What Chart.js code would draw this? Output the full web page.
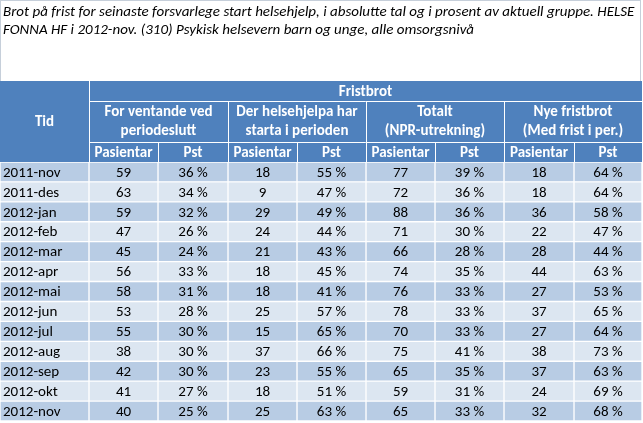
<!DOCTYPE html>
<html>
<head>
<meta charset="utf-8">
<script src="https://cdn.jsdelivr.net/npm/chart.js@4/dist/chart.umd.min.js"></script>
<style>
  body { margin: 0; background: #fff; }
  canvas { display: block; }
</style>
</head>
<body>
<canvas id="c" width="643" height="423"></canvas>
<script>
const titleLines = [
  "Brot på frist for seinaste forsvarlege start helsehjelp, i absolutte tal og i prosent av aktuell gruppe. HELSE",
  "FONNA HF i 2012-nov. (310) Psykisk helsevern barn og unge, alle omsorgsnivå"
];
const topHeader = "Fristbrot";
const groupHeaders = [
  ["For ventande ved", "periodeslutt"],
  ["Der helsehjelpa har", "starta i perioden"],
  ["Totalt", "(NPR-utrekning)"],
  ["Nye fristbrot", "(Med frist i per.)"]
];
const subHeaders = ["Pasientar", "Pst"];

const tid = ["2011-nov", "2011-des", "2012-jan", "2012-feb", "2012-mar", "2012-apr", "2012-mai",
             "2012-jun", "2012-jul", "2012-aug", "2012-sep", "2012-okt", "2012-nov"];
const ventPas  = [59, 63, 59, 47, 45, 56, 58, 53, 55, 38, 42, 41, 40];
const ventPst  = [36, 34, 32, 26, 24, 33, 31, 28, 30, 30, 30, 27, 25];
const startPas = [18, 9, 29, 24, 21, 18, 18, 25, 15, 37, 23, 18, 25];
const startPst = [55, 47, 49, 44, 43, 45, 41, 57, 65, 66, 55, 51, 63];
const totPas   = [77, 72, 88, 71, 66, 74, 76, 78, 70, 75, 65, 59, 65];
const totPst   = [39, 36, 36, 30, 28, 35, 33, 33, 33, 41, 35, 31, 33];
const nyePas   = [18, 18, 36, 22, 28, 44, 27, 37, 27, 38, 37, 24, 32];
const nyePst   = [64, 64, 58, 47, 44, 63, 53, 65, 64, 73, 63, 69, 68];

const valueCols = [ventPas, ventPst, startPas, startPst, totPas, totPst, nyePas, nyePst];
const isPct = [false, true, false, true, false, true, false, true];

// column widths (layout units on the x scale)
const colWidths = [89, 69, 70, 69, 69, 69, 69, 70, 68];
const edges = [0];
colWidths.forEach(w => edges.push(edges[edges.length - 1] + w));

const FONT = "Carlito, Calibri, Lato, 'Open Sans', sans-serif";
const HEAD_BLUE = "#4F81BD";
const ROW_DARK = "#B8CCE4";
const ROW_LIGHT = "#DCE6F1";

function drawText(ctx, text, x, y, align) {
  ctx.textAlign = align;
  ctx.fillText(text, x, y);
}

const rowColors = tid.map((_, i) => i % 2 === 0 ? ROW_DARK : ROW_LIGHT);

const datasets = colWidths.map((_, c) => ({
  data: tid.map(() => [edges[c], edges[c + 1]]),
  backgroundColor: rowColors,
  borderColor: "#FFFFFF",
  borderWidth: 1,
  borderSkipped: false,
  barPercentage: 1,
  categoryPercentage: 1,
  grouped: false
}));

const tablePlugin = {
  id: "table",
  beforeDraw(chart) {
    const ctx = chart.ctx;
    const x = chart.scales.x;
    const px = v => x.getPixelForValue(v);
    const left = px(edges[0]), right = px(edges[edges.length - 1]);

    ctx.save();
    // title box
    ctx.fillStyle = "#FFFFFF";
    ctx.fillRect(0, 0, chart.width, chart.height);
    ctx.strokeStyle = "#C6CFDA";
    ctx.lineWidth = 1;
    ctx.strokeRect(0.5, 0.5, right - 2, 81);
    ctx.fillStyle = "#000000";
    ctx.font = "italic 15px " + FONT;
    ctx.textBaseline = "alphabetic";
    drawText(ctx, titleLines[0], 3, 16, "left");
    drawText(ctx, titleLines[1], 3, 34, "left");

    // header block
    const hTop = 81, h1 = 101, h2 = 142, hBot = 162;
    ctx.fillStyle = HEAD_BLUE;
    ctx.fillRect(left, hTop, right - left, hBot - hTop);

    ctx.strokeStyle = "#FFFFFF";
    ctx.lineWidth = 1;
    ctx.beginPath();
    const xTid = Math.round(px(edges[1])) + 0.5;
    ctx.moveTo(xTid, hTop); ctx.lineTo(xTid, hBot);
    ctx.moveTo(xTid, h1 + 0.5); ctx.lineTo(right, h1 + 0.5);
    ctx.moveTo(xTid, h2 + 0.5); ctx.lineTo(right, h2 + 0.5);
    for (let c = 2; c < edges.length - 1; c++) {
      const xx = Math.round(px(edges[c])) + 0.5;
      const top = (c % 2 === 1) ? h1 : h2;
      ctx.moveTo(xx, top); ctx.lineTo(xx, hBot);
    }
    ctx.stroke();

    ctx.fillStyle = "#FFFFFF";
    ctx.font = "bold 15px " + FONT;
    ctx.textBaseline = "middle";
    drawText(ctx, "Tid", (px(edges[0]) + px(edges[1])) / 2, (hTop + hBot) / 2 + 1, "center");
    drawText(ctx, topHeader, (px(edges[1]) + right) / 2, (hTop + h1) / 2 + 1, "center");
    groupHeaders.forEach((lines, g) => {
      const cx = (px(edges[1 + g * 2]) + px(edges[3 + g * 2])) / 2;
      drawText(ctx, lines[0], cx, h1 + 11, "center");
      drawText(ctx, lines[1], cx, h1 + 30, "center");
    });
    for (let c = 1; c < edges.length - 1; c++) {
      const cx = (px(edges[c]) + px(edges[c + 1])) / 2;
      drawText(ctx, subHeaders[(c - 1) % 2], cx, (h2 + hBot) / 2 + 1, "center");
    }
    ctx.restore();
  },
  afterDatasetsDraw(chart) {
    const ctx = chart.ctx;
    ctx.save();
    ctx.fillStyle = "#000000";
    ctx.font = "15px " + FONT;
    ctx.textBaseline = "middle";
    chart.data.datasets.forEach((ds, c) => {
      chart.getDatasetMeta(c).data.forEach((bar, r) => {
        const lo = Math.min(bar.x, bar.base), hi = Math.max(bar.x, bar.base);
        if (c === 0) {
          drawText(ctx, tid[r], lo + 3, bar.y + 1, "left");
        } else {
          const v = valueCols[c - 1][r];
          const txt = isPct[c - 1] ? v + " %" : String(v);
          drawText(ctx, txt, (lo + hi) / 2, bar.y + 1, "center");
        }
      });
    });
    ctx.restore();
  }
};

new Chart(document.getElementById("c"), {
  type: "bar",
  data: { labels: tid, datasets: datasets },
  options: {
    indexAxis: "y",
    responsive: false,
    animation: false,
    layout: { padding: { top: 162, left: 0, right: 1, bottom: 2 } },
    plugins: { legend: { display: false }, tooltip: { enabled: false }, title: { display: false } },
    scales: {
      x: { type: "linear", display: false, min: 0, max: edges[edges.length - 1] },
      y: { display: false }
    }
  },
  plugins: [tablePlugin]
});
</script>
</body>
</html>
